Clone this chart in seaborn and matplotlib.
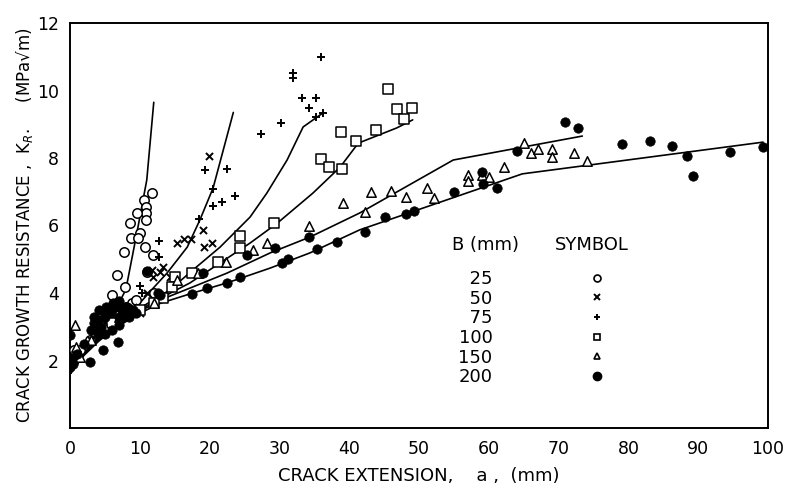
import numpy as np
import pandas as pd
import matplotlib
matplotlib.use('Agg')
import matplotlib.pyplot as plt
from matplotlib.lines import Line2D
import seaborn as sns

# --- fitted R-curves, one per thickness B (mm) ---
c25_x = [0, 2, 4, 6, 8, 9.6, 11.0, 12.0]
c25_y = [1.6, 2.2, 2.7, 3.3, 4.1, 5.8, 7.35, 9.65]
c50_x = [0, 2, 4, 6, 8, 10, 11.5, 13.9, 16.8, 18.6, 20.5, 23.4]
c50_y = [1.6, 2.2, 2.65, 3.05, 3.35, 3.7, 4.05, 4.59, 5.36, 6.16, 7.11, 9.35]
c75_x = [0, 2, 4, 6, 8, 10, 14.3, 17.6, 21.5, 25.8, 28.2, 31.1, 33.4, 36.2]
c75_y = [1.6, 2.2, 2.65, 3.0, 3.3, 3.55, 4.09, 4.68, 5.36, 6.25, 6.96, 7.94, 8.92, 9.33]
c100_x = [0, 2, 4, 6, 8, 10, 13, 17.2, 21.5, 25.8, 29.7, 34.8, 38.7, 41.3, 46.8, 49.1]
c100_y = [1.6, 2.2, 2.6, 2.95, 3.25, 3.5, 3.85, 4.30, 4.89, 5.48, 6.07, 6.96, 7.73, 8.44, 8.89, 9.13]
c150_x = [0, 2, 4, 6, 8, 10, 13, 17.6, 22.5, 28.7, 34.4, 41.5, 54.9, 73.4]
c150_y = [1.6, 2.2, 2.6, 2.95, 3.2, 3.45, 3.8, 4.18, 4.59, 5.19, 5.66, 6.37, 7.94, 8.65]
c200_x = [0, 2, 4, 6, 8, 10, 13, 17.6, 22.5, 28.7, 34.4, 41.5, 64.8, 99.3]
c200_y = [1.6, 2.15, 2.55, 2.9, 3.15, 3.4, 3.7, 4.0, 4.30, 4.74, 5.19, 5.87, 7.53, 8.47]

# --- measured points ---
p25_x = [11.7, 10.6, 10.9, 10.9, 10.9, 9.6, 8.6, 10.0, 8.7, 9.7, 10.7, 7.7, 11.9, 11.0,
         6.7, 6.0, 7.9, 8.9, 6.9, 5.7, 4.3, 4.7, 2.9, 1.4, 9.5, 8.0, 5.0, 12.1, 0.6]
p25_y = [6.96, 6.76, 6.55, 6.37, 6.16, 6.37, 6.07, 5.78, 5.63, 5.63, 5.36, 5.21, 5.13, 4.62,
         4.53, 3.94, 4.18, 3.70, 3.70, 3.41, 3.05, 2.81, 2.61, 2.31, 3.8, 3.6, 3.3, 4.0, 2.3]

p50_x = [19.9, 19.1, 19.2, 20.3, 17.3, 16.3, 15.3, 13.3, 12.9, 14.3, 11.7, 11.9, 11.0, 10.0,
         5, 6.5, 7.5, 3, 9]
p50_y = [8.06, 5.87, 5.36, 5.48, 5.60, 5.60, 5.48, 4.77, 4.62, 4.47, 4.68, 4.47, 4.0, 3.41,
         3.0, 3.3, 3.4, 2.6, 3.6]

p75_x = [36.0, 31.9, 31.9, 33.2, 35.2, 34.2, 35.2, 36.2, 30.2, 27.4, 19.3, 22.5, 20.5, 20.5,
         21.8, 23.6, 18.5, 12.8, 12.8, 10.0, 10.3, 6, 8, 4]
p75_y = [10.99, 10.52, 10.37, 9.78, 9.78, 9.48, 9.21, 9.33, 9.04, 8.71, 7.64, 7.67, 7.08, 6.58,
         6.70, 6.87, 6.19, 5.54, 5.07, 4.21, 4.0, 3.2, 3.4, 2.9]

p100_x = [45.6, 46.8, 49.0, 47.9, 43.8, 38.8, 41.0, 36.0, 37.1, 39.0, 29.2, 24.4, 24.4, 21.2,
          17.5, 15.0, 14.6, 13.3, 8, 10, 12, 6]
p100_y = [10.04, 9.45, 9.48, 9.16, 8.83, 8.77, 8.50, 7.97, 7.73, 7.67, 6.07, 5.69, 5.33, 4.92,
          4.59, 4.47, 4.18, 3.85, 3.4, 3.5, 3.7, 3.1]

p150_x = [65.0, 66.0, 67.0, 69.1, 69.1, 72.2, 74.1, 62.2, 57.0, 57.0, 59.0, 60.0, 51.1, 52.1,
          48.1, 46.0, 43.1, 42.3, 39.1, 34.2, 28.2, 26.2, 22.3, 18.3, 15.3, 0.7, 0.8, 1.5,
          3, 5, 7, 9, 12]
p150_y = [8.44, 8.15, 8.27, 8.27, 8.03, 8.15, 7.91, 7.73, 7.50, 7.32, 7.50, 7.44, 7.11, 6.81,
          6.84, 7.02, 6.99, 6.40, 6.67, 5.99, 5.48, 5.27, 4.92, 4.59, 4.39, 3.05, 2.4, 2.1,
          2.6, 3.0, 3.3, 3.45, 3.7]

p200_x = [70.9, 72.8, 64.0, 59.0, 59.2, 61.2, 55.0, 49.3, 48.1, 45.1, 42.3, 38.3, 35.4, 34.2,
          79.1, 83.1, 86.2, 88.4, 89.3, 94.6, 99.3, 31.2, 30.4, 25.4, 29.4, 24.4, 22.5, 19.6,
          17.5, 19.1, 12.9, 11.0, 12.6, 0, 0.3, 2.9, 4.7, 6.9, 0, 0.5, 1, 2, 3.5, 4, 4.5, 5,
          5.5, 6, 6.5, 7, 7.5, 8, 8.5, 6, 5, 7,
          3.5, 4.2, 5.2, 6.2, 7.0, 8.0, 9.0, 9.5, 3.0, 4.0]
p200_y = [9.07, 8.89, 8.21, 7.59, 7.23, 7.11, 6.99, 6.43, 6.34, 6.25, 5.81, 5.51, 5.30, 5.66,
          8.41, 8.50, 8.36, 8.06, 7.47, 8.18, 8.33, 5.01, 4.89, 5.13, 5.33, 4.47, 4.30, 4.15,
          3.97, 4.59, 3.94, 4.65, 4.0, 2.76, 2.07, 1.96, 2.31, 2.55, 1.8, 1.9, 2.2, 2.5, 3.1,
          3.2, 3.0, 3.3, 3.4, 3.5, 3.6, 3.3, 3.5, 3.4, 3.3, 2.9, 2.8, 3.05,
          3.3, 3.5, 3.6, 3.7, 3.75, 3.6, 3.5, 3.4, 2.9, 2.8]

legend_labels = ['\u200725', '\u200750', '\u200775', '100', '150', '200']

sns.set_style('white')
plt.rcParams['font.family'] = ['DejaVu Sans']
plt.rcParams['text.color'] = 'black'
plt.rcParams['axes.labelcolor'] = 'black'

fig = plt.figure(figsize=(7.92, 4.91), dpi=100)
ax = fig.add_axes([70 / 792, 1 - 428 / 491, 698 / 792, 405 / 491])

curves = [(c25_x, c25_y), (c50_x, c50_y), (c75_x, c75_y),
          (c100_x, c100_y), (c150_x, c150_y), (c200_x, c200_y)]
for cx, cy in curves:
    sns.lineplot(x=cx, y=cy, ax=ax, color='black', linewidth=1.2, sort=False, estimator=None)

ms = 46
sns.scatterplot(x=p25_x, y=p25_y, ax=ax, marker='o', s=ms, facecolor='white', edgecolor='black', linewidth=1.1, zorder=3)
sns.scatterplot(x=p50_x, y=p50_y, ax=ax, marker='x', s=26, color='black', linewidth=1.4, zorder=3)
sns.scatterplot(x=p75_x, y=p75_y, ax=ax, marker='+', s=30, color='black', linewidth=1.4, zorder=3)
sns.scatterplot(x=p100_x, y=p100_y, ax=ax, marker='s', s=ms, facecolor='white', edgecolor='black', linewidth=1.1, zorder=3)
sns.scatterplot(x=p150_x, y=p150_y, ax=ax, marker='^', s=ms, facecolor='white', edgecolor='black', linewidth=1.1, zorder=3)
sns.scatterplot(x=p200_x, y=p200_y, ax=ax, marker='o', s=ms, color='black', edgecolor='black', linewidth=0.5, zorder=4)

ax.set_xlim(0, 100)
ax.set_ylim(0, 12)
ax.set_xticks(range(0, 101, 10))
ax.set_yticks([2, 4, 6, 8, 10, 12])
ax.tick_params(axis='both', direction='in', length=7, width=1.2, labelsize=12.5,
               colors='black', labelcolor='black')
ax.tick_params(axis='x', pad=9)
ax.tick_params(axis='y', pad=8)
for sp in ax.spines.values():
    sp.set_linewidth(1.4)
    sp.set_color('black')

ax.set_xlabel('CRACK EXTENSION,    a ,  (mm)', fontsize=13, labelpad=6)
ax.set_ylabel('CRACK GROWTH RESISTANCE ,  K$_R$.     (MPa\u221Am)', fontsize=12, labelpad=1)

# legend header
ax.text(0.547, 0.452, 'B (mm)', transform=ax.transAxes, fontsize=13, va='center', ha='left')
ax.text(0.695, 0.452, 'SYMBOL', transform=ax.transAxes, fontsize=13, va='center', ha='left')

handles = [
    Line2D([], [], ls='', marker='o', ms=5, mfc='white', mec='black', mew=1.2),
    Line2D([], [], ls='', marker='x', ms=4, mec='black', mew=1.4),
    Line2D([], [], ls='', marker='+', ms=5, mec='black', mew=1.4),
    Line2D([], [], ls='', marker='s', ms=5, mfc='white', mec='black', mew=1.2),
    Line2D([], [], ls='', marker='^', ms=5, mfc='white', mec='black', mew=1.2),
    Line2D([], [], ls='', marker='o', ms=6, mfc='black', mec='black'),
]
leg = ax.legend(handles, legend_labels, markerfirst=False, frameon=False, fontsize=13,
                handletextpad=4.8, labelspacing=0.09, borderpad=0, borderaxespad=0,
                loc='upper left', bbox_to_anchor=(0.556, 0.39))

fig.savefig('out.png', dpi=100)
